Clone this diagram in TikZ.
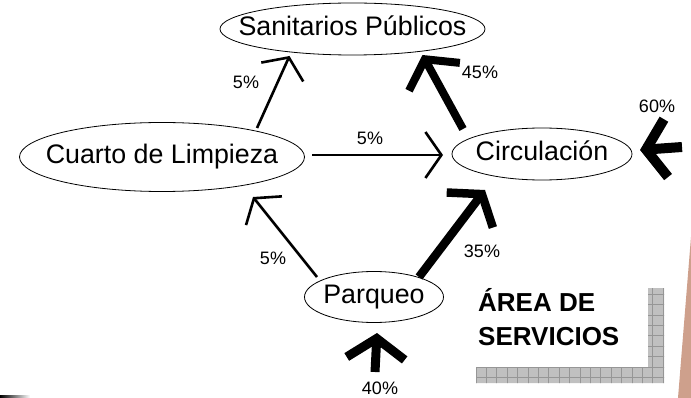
\documentclass[tikz,border=0pt]{standalone}
\usepackage{fontspec}
\setmainfont{Liberation Sans}
\usetikzlibrary{shapes.geometric,arrows.meta}
\definecolor{gridfill}{RGB}{192,192,192}
\definecolor{gridline}{RGB}{150,150,150}
\definecolor{salmon}{RGB}{206,160,140}
\begin{document}
\begin{tikzpicture}[x=1pt,y=-1pt,
  place/.style={ellipse,draw,line width=0.8pt,inner sep=0pt,text height=19pt,text depth=6pt,
    font=\fontsize{26.8}{30}\selectfont},
  pct/.style={font=\fontsize{18}{20}\selectfont,inner sep=0pt},
  title/.style={font=\fontsize{26}{30}\selectfont\bfseries,inner sep=0pt,anchor=base west},
  thinarrow/.style={line width=2.6pt,-{Straight Barb[length=16pt 0,width=46pt 0,sharp]}},
  thickarrow/.style={line width=#1,-{Straight Barb[length=20pt 0,width=58pt 0,sharp]}}]
\useasboundingbox (0,0) rectangle (691,398);

% decorations
\fill[salmon] (691,237) -- (678,398) -- (691,398) -- cycle;
\shade[left color=black,right color=white] (0,395.4) rectangle (30,397.2);
\begin{scope}
  \clip (476,367) -- (648,367) -- (648,288) -- (664,288) -- (664,383) -- (476,383) -- cycle;
  \fill[gridfill] (470,280) rectangle (670,390);
  \draw[gridline,line width=0.7pt,shift={(476,367)}] (-10,-90) grid[step=10.4pt] (190,20);
\end{scope}

% nodes
\node[place,minimum width=265pt,minimum height=52pt] (san) at (352.5,29) {\makebox[0pt]{Sanitarios Públicos}};
\node[place,minimum width=285pt,minimum height=69pt] (cua) at (162,157) {\makebox[0pt]{Cuarto de Limpieza}};
\node[place,minimum width=180pt,minimum height=52pt] (cir) at (542,154) {\makebox[0pt]{Circulación}};
\node[place,minimum width=139pt,minimum height=51pt] (par) at (374,297) {\makebox[0pt]{Parqueo}};

\node[title] (area1) at (478,312) {ÁREA DE};
\node[title] (area2) at (478,345) {SERVICIOS};

\coordinate (in40) at (375,372);
\coordinate (in60) at (682,147);

% connectors
\draw[thinarrow] ([shift={(95,-29)}]cua.center) -- ([shift={(-63,27)}]san.center);
\draw[thickarrow=8pt] ([shift={(-79,-25)}]cir.center) -- ([shift={(70,26)}]san.center);
\draw[thinarrow] ([shift={(150,-2)}]cua.center) -- ([shift={(-99,1)}]cir.center);
\draw[thinarrow] ([shift={(-57,-20)}]par.center) -- ([shift={(91,40)}]cua.center);
\draw[thickarrow=8.5pt] ([shift={(45,-20)}]par.center) -- ([shift={(-57,36)}]cir.center);
\draw[thickarrow=9pt] (in40) -- ([shift={(3,36)}]par.center);
\draw[thickarrow=10pt] (in60) -- ([shift={(98,-4)}]cir.center);

% labels
\node[pct] (l1) at (246,82) {5\%};
\node[pct] (l2) at (480,72) {45\%};
\node[pct] (l3) at (370,138) {5\%};
\node[pct] (l4) at (657,106) {60\%};
\node[pct] (l5) at (273,258) {5\%};
\node[pct] (l6) at (482,251) {35\%};
\node[pct] (l7) at (380,388) {40\%};
\end{tikzpicture}
\end{document}
